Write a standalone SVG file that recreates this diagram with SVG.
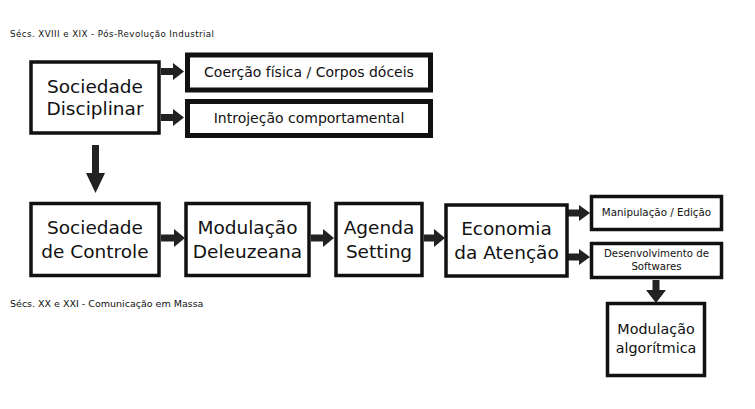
<svg xmlns="http://www.w3.org/2000/svg" width="755" height="409" viewBox="0 0 755 409">
<style>
text{font-family:"DejaVu Sans","Liberation Sans",sans-serif;fill:#111;text-anchor:middle}
.box{fill:#fff;stroke:#111;stroke-width:3.5}
.thick{fill:#fff;stroke:#111;stroke-width:5}
.big{font-size:18.5px}
.mid{font-size:14px}
.sm{font-size:10.3px}
.xs{font-size:10.2px}
.hdr{font-size:9px;text-anchor:start}
.arr{fill:#222}
</style>
<rect width="755" height="409" fill="#fff"/>
<text class="hdr" x="10" y="37" style="font-size:8.7px" textLength="204">Sécs. XVIII e XIX - Pós-Revolução Industrial</text>
<text class="hdr" x="10" y="307" style="font-size:9.5px">Sécs. XX e XXI - Comunicação em Massa</text>
<g id="connectors">
<polygon class="arr" points="161,68 173,68 173,63 184,71.5 173,80 173,75 161,75"/>
<polygon class="arr" points="161,114 173,114 173,109 184,117.5 173,126 173,121 161,121"/>
<polygon class="arr" points="92,145 99,145 99,173 105,173 95.5,193 86,173 92,173"/>
<polygon class="arr" points="161,234.5 174,234.5 174,229 185,238 174,247 174,241.5 161,241.5"/>
<polygon class="arr" points="311,234.5 323,234.5 323,229 334,238 323,247 323,241.5 311,241.5"/>
<polygon class="arr" points="424,234.5 434,234.5 434,229 445,238 434,247 434,241.5 424,241.5"/>
<polygon class="arr" points="568,209.5 579,209.5 579,205 590,213 579,221 579,216.5 568,216.5"/>
<polygon class="arr" points="568,253.5 579,253.5 579,249 590,257 579,265 579,260.5 568,260.5"/>
<polygon class="arr" points="652.5,280 659.5,280 659.5,290 666,290 656,303 646,290 652.5,290"/>
</g>
<g id="sociedade-disciplinar">
<rect class="box" x="31" y="62" width="128" height="71"/>
<text class="big" x="95" y="93">Sociedade</text>
<text class="big" x="95" y="115">Disciplinar</text>
</g>
<g id="coercao">
<rect class="thick" x="187.5" y="55" width="243" height="35"/>
<text class="mid" x="309" y="77">Coerção física / Corpos dóceis</text>
</g>
<g id="introjecao">
<rect class="thick" x="187.5" y="101.5" width="243" height="34"/>
<text class="mid" x="309" y="123">Introjeção comportamental</text>
</g>
<g id="sociedade-controle">
<rect class="box" x="31" y="203.5" width="128" height="72"/>
<text class="big" x="95" y="234">Sociedade</text>
<text class="big" x="95" y="258">de Controle</text>
</g>
<g id="modulacao-deleuzeana">
<rect class="box" x="186" y="203.5" width="123" height="72"/>
<text class="big" x="247.5" y="234">Modulação</text>
<text class="big" x="247.5" y="258">Deleuzeana</text>
</g>
<g id="agenda-setting">
<rect class="box" x="336" y="203.5" width="86" height="72"/>
<text class="big" x="379" y="234">Agenda</text>
<text class="big" x="379" y="258">Setting</text>
</g>
<g id="economia-atencao">
<rect class="box" x="446" y="205" width="121" height="71"/>
<text class="big" x="506.5" y="235">Economia</text>
<text class="big" x="506.5" y="259">da Atenção</text>
</g>
<g id="manipulacao">
<rect class="box" x="591.5" y="196.5" width="130" height="33"/>
<text class="sm" x="656.5" y="216">Manipulação / Edição</text>
</g>
<g id="desenvolvimento">
<rect class="box" x="591.5" y="243.5" width="130" height="34"/>
<text class="xs" x="656.5" y="257">Desenvolvimento de</text>
<text class="xs" x="656.5" y="270">Softwares</text>
</g>
<g id="modulacao-algoritmica">
<rect class="box" x="607.5" y="303.5" width="97" height="72"/>
<text class="mid" x="656" y="334" style="font-size:14.3px">Modulação</text>
<text class="mid" x="656" y="353" style="font-size:14.3px">algorítmica</text>
</g>
</svg>
